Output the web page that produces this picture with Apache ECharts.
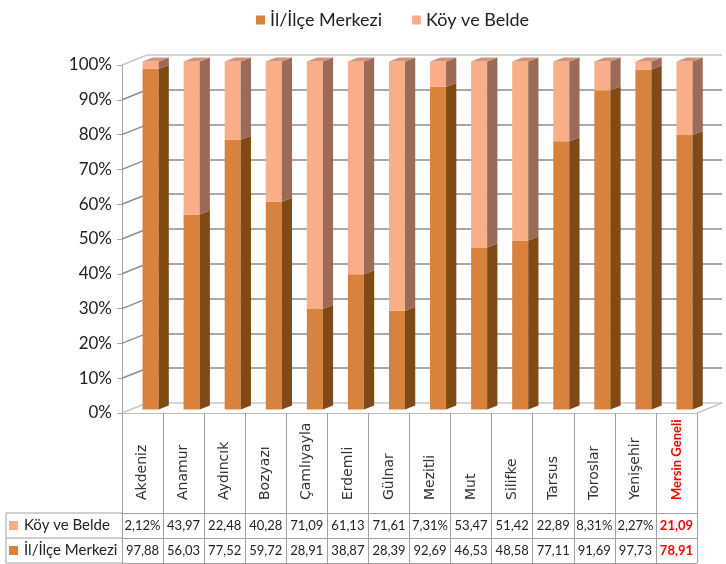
<!DOCTYPE html>
<html>
<head>
<meta charset="utf-8">
<script src="https://cdn.jsdelivr.net/npm/echarts@6/dist/echarts.min.js"></script>
<style>
  html, body { margin: 0; padding: 0; background: #fff; }
  #chart { width: 726px; height: 564px; }
</style>
</head>
<body>
<div id="chart"></div>
<script>
const categories = ['Akdeniz', 'Anamur', 'Aydıncık', 'Bozyazı', 'Çamlıyayla', 'Erdemli', 'Gülnar',
  'Mezitli', 'Mut', 'Silifke', 'Tarsus', 'Toroslar', 'Yenişehir', 'Mersin Geneli'];
const koyVals = [2.12, 43.97, 22.48, 40.28, 71.09, 61.13, 71.61, 7.31, 53.47, 51.42, 22.89, 8.31, 2.27, 21.09];
const ilVals = [97.88, 56.03, 77.52, 59.72, 28.91, 38.87, 28.39, 92.69, 46.53, 48.58, 77.11, 91.69, 97.73, 78.91];
const yTicks = [0, 10, 20, 30, 40, 50, 60, 70, 80, 90, 100];
const seriesNames = ['İl/İlçe Merkezi', 'Köy ve Belde'];

const IL_FRONT = '#d9823d', IL_SIDE = '#7f4a16';
const KOY_FRONT = '#f9ae88', KOY_SIDE = '#9c6b57', KOY_TOP = '#d39479';
const DEPTH_X = 25, DEPTH_Y = -10;
const last = categories.length - 1;

const fmt = (v) => v.toFixed(2).replace('.', ',') + (v < 10 ? '%' : '');
const gridColors = yTicks.map((v) => (v === 0 || v === 100) ? '#c8c8c8' : '#8c8c8c');
// last one (province total) in red
const headData = categories.map((c, i) => i === last ? {
  value: c,
  textStyle: { color: '#ff0000', fontWeight: 'bold', fontFamily: 'Lato', fontSize: 13, align: 'left', verticalAlign: 'middle' }
} : c);
const rowData = categories.map((c, i) => i === last ? { value: c, textStyle: { color: '#ff0000', fontWeight: 'bold' } } : c);

const myChart = echarts.init(document.getElementById('chart'));

const bar3d = (front, side, top) => (params, api) => {
  const i = api.value(0);
  const bw = api.size([1, 0])[0];
  const p0 = api.coord([i, api.value(1)]);
  const p1 = api.coord([i, api.value(2)]);
  const fw = bw * 0.39, dx = bw * 0.25, dy = -4, oy = -3.5;
  const xl = p0[0], xr = xl + fw, yb = p0[1] + oy, yt = p1[1] + oy;
  const children = [
    { type: 'rect', shape: { x: xl, y: yt, width: fw, height: yb - yt }, style: { fill: front } },
    { type: 'polygon', shape: { points: [[xr, yb], [xr + dx, yb + dy], [xr + dx, yt + dy], [xr, yt]] }, style: { fill: side } }
  ];
  if (top) {
    children.push({ type: 'polygon', shape: { points: [[xl, yt], [xr, yt], [xr + dx, yt + dy], [xl + dx, yt + dy]] }, style: { fill: top } });
  }
  return { type: 'group', children: children };
};

const rowAxis = (offset, vals) => ({
  type: 'category', gridIndex: 0, data: rowData, position: 'bottom', offset: offset,
  axisLine: { show: true, lineStyle: { color: '#a0a0a0' } },
  axisTick: { show: false },
  axisLabel: vals ? {
    interval: 0, margin: 6, fontFamily: 'Lato', fontSize: 13, color: '#222',
    formatter: (val, idx) => fmt(vals[idx])
  } : { show: false }
});

const option = {
  animation: false,
  legend: {
    data: seriesNames, left: 251, top: 6, icon: 'rect', itemWidth: 9, itemHeight: 9, itemGap: 30,
    textStyle: { fontFamily: 'Lato', fontSize: 18, color: '#222' }
  },
  grid: [
    { left: 122, right: 29, top: 65, bottom: 151, outerBoundsMode: 'none' },
    { left: 122 + DEPTH_X, right: 29 - DEPTH_X, top: 65 + DEPTH_Y, bottom: 151 - DEPTH_Y, outerBoundsMode: 'none' }
  ],
  xAxis: [
    {
      type: 'category', gridIndex: 0, data: headData,
      axisLine: { show: true, lineStyle: { color: '#bfbfbf' } },
      axisTick: { show: true, length: 150, lineStyle: { color: '#a0a0a0' } },
      axisLabel: {
        interval: 0, rotate: 90, align: 'left', verticalAlign: 'middle', margin: 87,
        fontFamily: 'DejaVu Sans', fontSize: 14, color: '#333'
      }
    },
    rowAxis(100, koyVals),
    rowAxis(125, ilVals),
    rowAxis(150, null),
    { type: 'category', gridIndex: 1, data: categories, show: false }
  ],
  yAxis: [
    {
      type: 'value', gridIndex: 0, min: 0, max: 100, interval: 10,
      axisLine: { show: true, lineStyle: { color: '#a6a6a6' } },
      axisTick: { show: true, length: 5, lineStyle: { color: '#a6a6a6' } },
      axisLabel: { formatter: '{value}%', fontFamily: 'Lato', fontSize: 17, color: '#222', margin: 10 },
      splitLine: { show: false }
    },
    {
      type: 'value', gridIndex: 1, min: 0, max: 100, interval: 10,
      axisLine: { show: false }, axisTick: { show: false }, axisLabel: { show: false },
      splitLine: { show: true, lineStyle: { color: gridColors, width: 1.5 } }
    }
  ],
  series: [
    {
      type: 'custom', name: 'wall', xAxisIndex: 0, yAxisIndex: 0, silent: true, z: 1,
      data: yTicks.map((v) => [0, v]), encode: { x: 0, y: 1 },
      renderItem: (params, api) => {
        const v = api.value(1);
        const bw = api.size([1, 0])[0];
        const p = api.coord([0, v]);
        const left = p[0] - bw / 2;
        const color = (v === 0 || v === 100) ? '#c8c8c8' : '#8c8c8c';
        const children = [{ type: 'line', shape: { x1: left, y1: p[1], x2: left + DEPTH_X, y2: p[1] + DEPTH_Y }, style: { stroke: color, lineWidth: 1.5 } }];
        if (v === 0) {
          const right = api.coord([last, 0])[0] + bw / 2;
          children.push({ type: 'line', shape: { x1: right, y1: p[1], x2: right + DEPTH_X, y2: p[1] + DEPTH_Y }, style: { stroke: color, lineWidth: 1.5 } });
        }
        return { type: 'group', children: children };
      }
    },
    {
      type: 'custom', name: seriesNames[0], xAxisIndex: 0, yAxisIndex: 0, z: 3,
      itemStyle: { color: IL_FRONT },
      data: ilVals.map((v, i) => [i, 0, v]), encode: { x: 0, y: [1, 2] },
      renderItem: bar3d(IL_FRONT, IL_SIDE, null)
    },
    {
      type: 'custom', name: seriesNames[1], xAxisIndex: 0, yAxisIndex: 0, z: 3,
      itemStyle: { color: KOY_FRONT },
      data: koyVals.map((v, i) => [i, ilVals[i], ilVals[i] + v]), encode: { x: 0, y: [1, 2] },
      renderItem: bar3d(KOY_FRONT, KOY_SIDE, KOY_TOP)
    }
  ],
  graphic: [
    { type: 'line', shape: { x1: 6, y1: 513, x2: 122, y2: 513 }, style: { stroke: '#a0a0a0' } },
    { type: 'line', shape: { x1: 6, y1: 538, x2: 122, y2: 538 }, style: { stroke: '#a0a0a0' } },
    { type: 'line', shape: { x1: 6, y1: 563, x2: 122, y2: 563 }, style: { stroke: '#a0a0a0' } },
    { type: 'line', shape: { x1: 6, y1: 513, x2: 6, y2: 563 }, style: { stroke: '#a0a0a0' } },
    { type: 'rect', shape: { x: 9, y: 521, width: 9, height: 9 }, style: { fill: KOY_FRONT } },
    { type: 'rect', shape: { x: 9, y: 546, width: 9, height: 9 }, style: { fill: IL_FRONT } },
    { type: 'text', x: 24, y: 525.5, style: { text: seriesNames[1], fontFamily: 'Lato', fontSize: 15, fill: '#222', verticalAlign: 'middle' } },
    { type: 'text', x: 24, y: 550.5, style: { text: seriesNames[0], fontFamily: 'Lato', fontSize: 15, fill: '#222', verticalAlign: 'middle' } }
  ]
};

myChart.setOption(option);
window.addEventListener('resize', function () {
  myChart && myChart.resize();
});
</script>
</body>
</html>
